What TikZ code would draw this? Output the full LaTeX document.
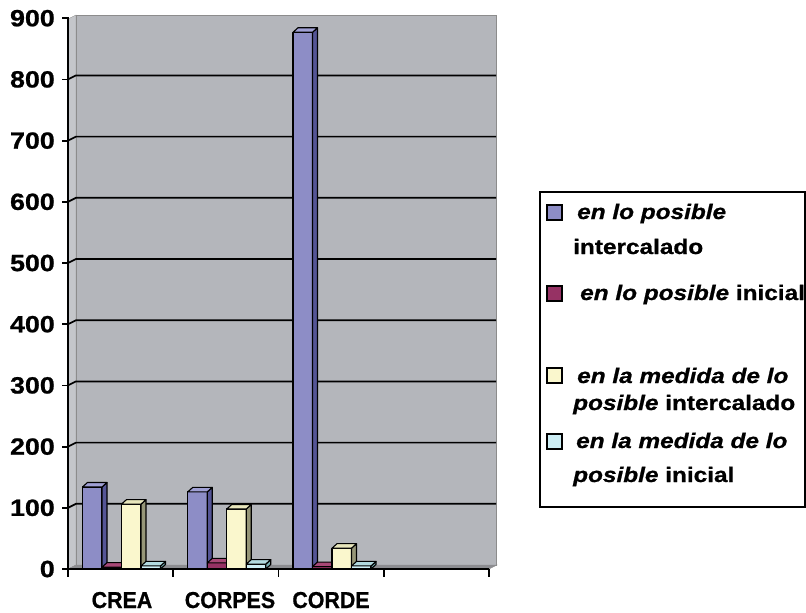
\documentclass[tikz,border=0pt]{standalone}
\usepackage{fontspec}
\setmainfont{Liberation Sans}[BoldFeatures={FakeBold=0.8}, BoldItalicFeatures={FakeBold=0.8}]
\usetikzlibrary{calc}
\definecolor{wallgray}{RGB}{180,182,187}
\definecolor{sidewall}{RGB}{196,198,202}
\definecolor{floorgray}{RGB}{140,141,145}
\definecolor{wallline}{RGB}{140,140,140}
\definecolor{posintfront}{RGB}{141,141,198}
\definecolor{posintside}{RGB}{85,85,150}
\definecolor{posinttop}{RGB}{160,160,212}
\definecolor{posinifront}{RGB}{150,50,100}
\definecolor{posiniside}{RGB}{100,30,65}
\definecolor{posinitop}{RGB}{168,72,118}
\definecolor{medintfront}{RGB}{250,247,205}
\definecolor{medintside}{RGB}{150,150,120}
\definecolor{medinttop}{RGB}{232,230,188}
\definecolor{medinifront}{RGB}{205,238,245}
\definecolor{mediniside}{RGB}{120,175,180}
\definecolor{medinitop}{RGB}{178,218,224}
% one 3d column: left x, value, colour prefix
\newcommand{\drawcol}[3]{%
  \pgfmathsetmacro{\ytop}{569-0.612*#2}
  \draw[colline, fill=#3front] (#1,569) rectangle (#1+19.5,\ytop);
  \draw[colline, fill=#3side] (#1+19.5,569) -- ++(5,-4.5) -- (#1+24.5,\ytop-4.5) -- (#1+19.5,\ytop) -- cycle;
  \draw[colline, fill=#3top] (#1,\ytop) -- ++(5,-4.5) -- ++(19.5,0) -- (#1+19.5,\ytop) -- cycle;
}

\begin{document}
\begin{tikzpicture}[x=1pt, y=-1pt,
    colline/.style={draw=black, line width=1.1pt, line join=round},
    gridline/.style={line width=1.7pt},
    axisline/.style={line width=1.8pt},
    ylab/.style={font=\fontsize{23.5}{24}\selectfont\bfseries, anchor=east, inner sep=0pt, xscale=1.14, transform shape},
    xlab/.style={font=\fontsize{23}{24}\selectfont\bfseries, anchor=base, inner sep=0pt, xscale=0.93, transform shape},
    leglab/.style={font=\fontsize{21}{22}\selectfont\bfseries, anchor=base west, inner sep=0pt, xscale=1.16, transform shape},
    legkey/.style={draw=black, line width=1.2pt}]
    \useasboundingbox (0,0) rectangle (806,613);
    % walls and floor
    \draw[fill=sidewall, draw=wallline] (68,569) -- (68,19) -- (76,15) -- (76,565) -- cycle;
    \draw[fill=wallgray, draw=wallline, line width=1pt] (76,15) rectangle (496,565);
    \draw[fill=floorgray, draw=wallline] (68,569) -- (489,569) -- (497,565) -- (76,565) -- cycle;
    \foreach \v in {100,200,...,800}
        \draw[gridline] (68,569-0.612*\v) -- ++(8,-4) -- (496,565-0.612*\v);
    % axes
    \draw[axisline] (68,569) -- (68,17);
    \draw[axisline] (68,569) -- (489,569);
    \foreach \v in {0,100,...,900} {
        \draw[axisline] (62,569-0.612*\v) -- (68,569-0.612*\v);
        \node[ylab] (y\v) at (55,569-0.612*\v) {\v};
    }
    \foreach \i in {0,...,4}
        \draw[axisline] (68+105.25*\i,569) -- ++(0,8);
    % columns
    \foreach \cx/\va/\vb/\vc/\vd in {68/134/3/106/5, 173.25/126/10/98/8, 278.5/877/4/34/5} {
        \drawcol{\cx+14.5}{\va}{posint}
        \drawcol{\cx+34}{\vb}{posini}
        \drawcol{\cx+53.5}{\vc}{medint}
        \drawcol{\cx+73}{\vd}{medini}
    }
    \node[xlab] (crea) at (122,608) {CREA};
    \node[xlab] (corpes) at (230,608) {CORPES};
    \node[xlab] (corde) at (331,608) {CORDE};
    % legend
    \draw[line width=1.5pt] (540,192) rectangle (805,507);
    \draw[legkey, fill=posintfront] (547,205) rectangle (562,220);
    \draw[legkey, fill=posinifront] (547,286) rectangle (562,301);
    \draw[legkey, fill=medintfront] (547,368) rectangle (562,383);
    \draw[legkey, fill=medinifront] (547,434) rectangle (562,449);
    \node[leglab] (l1a) at (577,219) {\itshape en lo posible};
    \node[leglab] (l1b) at (573,254) {intercalado};
    \node[leglab] (l2) at (580,300) {\textit{en lo posible} inicial};
    \node[leglab] (l3a) at (577,383) {\itshape en la medida de lo};
    \node[leglab] (l3b) at (573,410) {\textit{posible} intercalado};
    \node[leglab] (l4a) at (576,448) {\itshape en la medida de lo};
    \node[leglab] (l4b) at (573,482) {\textit{posible} inicial};
\end{tikzpicture}
\end{document}
